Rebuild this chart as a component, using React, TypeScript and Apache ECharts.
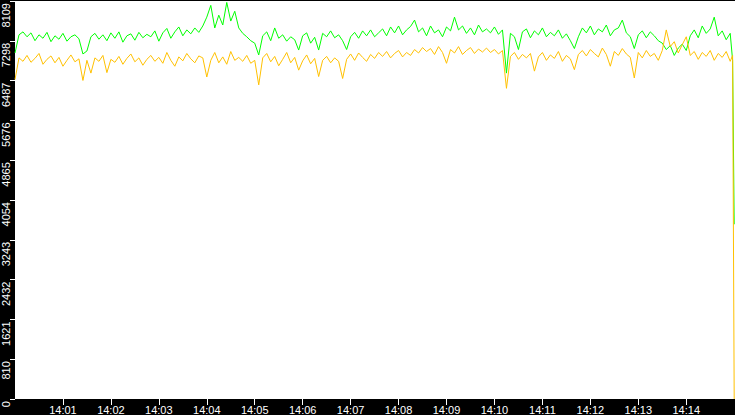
import React, { useEffect, useRef } from "react";
import * as echarts from "echarts";

// seconds after 14:00:00, one reading every 5 s, plus the final drop
const times: number[] = [
  ...Array.from({ length: 180 }, (_, i) => i * 5),
  898,
  900,
];

const greenValues: number[] = [
  7050, 7420, 7480, 7380, 7460, 7300, 7420, 7350, 7470, 7280,
  7400, 7330, 7450, 7290, 7380, 7420, 7340, 7030, 7090, 7380,
  7450, 7330, 7420, 7300, 7460, 7350, 7480, 7270, 7400, 7440,
  7310, 7470, 7360, 7430, 7380, 7500, 7290, 7460, 7550, 7350,
  7480, 7580, 7400, 7520, 7440, 7560, 7470, 7600, 7780, 8020,
  7560, 7820, 7620, 8080, 7700, 7900, 7560, 7450, 7380, 7300,
  7250, 7010, 7400, 7480, 7300, 7560, 7350, 7420, 7290, 7380,
  7320, 7110, 7400, 7460, 7250, 7370, 7110, 7450, 7380, 7500,
  7360, 7420, 7300, 7120, 7380, 7470, 7350, 7500, 7400, 7520,
  7380, 7460, 7540, 7400, 7580, 7460, 7600, 7420, 7520, 7590,
  7720, 7480, 7560, 7400, 7600, 7460, 7520, 7380, 7580, 7500,
  7780, 7520, 7600, 7450, 7560, 7420, 7620, 7480, 7540, 7460,
  7580, 7430, 7520, 6640, 7450, 7380, 7120, 7480, 7540, 7360,
  7500, 7420, 7560, 7380, 7470, 7400, 7520, 7350, 7440, 7300,
  7140, 7380, 7560, 7460, 7600, 7420, 7540, 7480, 7620, 7400,
  7520, 7560, 7720, 7460, 7380, 7140, 7420, 7500, 7360, 7480,
  7400, 7300, 7250, 7120, 7200, 7000, 7150, 7230, 7100, 7400,
  7520, 7360, 7600, 7450, 7540, 7780, 7400, 7500, 7320, 7450,
  6900, 3560,
];

const orangeValues: number[] = [
  6510, 6950, 6880, 7000, 6860, 6940, 7040, 6820, 6920, 6990,
  6850, 6960, 6780, 6900, 7010, 6870, 6930, 6490, 6900, 6640,
  6950, 6880, 7000, 6650, 6920, 6860, 6980, 6820, 6940, 7030,
  6870, 6950, 6800, 6920, 7000, 6880, 6960, 6840, 7060, 6900,
  6780, 6970, 6890, 7040, 6930, 6850, 6990, 6950, 6560, 6900,
  7060, 6850, 6970, 6820, 7080, 6900, 6960, 6880, 7000, 6840,
  6900, 6400, 6950, 7040, 6870, 6980, 6790, 6920, 7060, 6850,
  6960, 6700, 6890, 7010, 6830, 6940, 6570, 6900, 6980, 6850,
  6950, 6880, 6530, 6920, 7030, 6900, 7050, 6960, 6880, 7020,
  6940, 7060, 6980, 7080, 6950, 7040, 7100, 6970, 7060, 7000,
  7120, 7050, 7160, 7080, 7140, 7020, 7180, 7060, 6840, 7120,
  7050, 7180, 7020, 7100, 7160, 7040, 7130, 7070, 7150, 7060,
  7120, 7030, 7100, 6330, 6980, 7060, 6920, 7020, 6950, 7040,
  6680, 6970, 7060, 6900, 7010, 6940, 7080, 6880, 7000, 6930,
  6710, 7020, 7100, 6990, 7120, 7040, 6970, 7150, 7020, 6780,
  7080, 7000, 7140, 7030, 6960, 6540, 7060, 6950, 7100, 6980,
  7040, 6900, 7100, 7520, 7180, 7280, 7050, 7220, 7380, 7000,
  7080, 6920, 7060, 6980, 7100, 6900, 7040, 6960, 7080, 6880,
  7000, 0,
];

const xTickValues: number[] = [60, 120, 180, 240, 300, 360, 420, 480, 540, 600, 660, 720, 780, 840];
const xTickLabels: string[] = [
  "14:01", "14:02", "14:03", "14:04", "14:05", "14:06", "14:07",
  "14:08", "14:09", "14:10", "14:11", "14:12", "14:13", "14:14",
];

const yTickValues: number[] = [0, 810.9, 1621.8, 2432.7, 3243.6, 4054.5, 4865.4, 5676.3, 6487.2, 7298.1, 8109];
const yTickLabels: string[] = ["0", "810", "1621", "2432", "3243", "4054", "4865", "5676", "6487", "7298", "8109"];

const nearestLabel = (v: number, values: number[], labels: string[]) => {
  let best = 0;
  values.forEach((t, i) => {
    if (Math.abs(t - v) < Math.abs(values[best] - v)) best = i;
  });
  return labels[best];
};

const App: React.FC = () => {
  const chartRef = useRef<HTMLDivElement>(null);

  useEffect(() => {
    if (!chartRef.current) return;
    document.body.style.margin = "0";
    const chart = echarts.init(chartRef.current, null, { renderer: "svg" });

    chart.setOption({
      animation: false,
      backgroundColor: "#000",
      grid: {
        show: true,
        left: 15,
        right: 0,
        top: 0,
        bottom: 16,
        backgroundColor: "#fff",
        borderWidth: 0,
      },
      xAxis: {
        type: "value",
        min: 0,
        max: 901,
        axisLine: { show: false },
        splitLine: { show: false },
        axisTick: {
          show: true,
          customValues: xTickValues,
          length: 6,
          lineStyle: { color: "#fff", width: 1 },
        },
        axisLabel: {
          customValues: xTickValues,
          color: "#fff",
          fontFamily: "Liberation Sans",
          fontSize: 11,
          margin: 5,
          formatter: (v: number) => nearestLabel(v, xTickValues, xTickLabels),
        },
      },
      yAxis: {
        type: "value",
        min: 0,
        max: 8109,
        axisLine: { show: false },
        splitLine: { show: false },
        axisTick: {
          show: true,
          customValues: yTickValues,
          length: 5,
          lineStyle: { color: "#fff", width: 1 },
        },
        axisLabel: {
          customValues: yTickValues,
          color: "#fff",
          fontFamily: "Liberation Sans",
          fontSize: 11,
          rotate: 90,
          align: "right",
          verticalAlign: "middle",
          margin: 9,
          padding: [0, 2, 0, 0],
          formatter: (v: number) => nearestLabel(v, yTickValues, yTickLabels),
        },
      },
      series: [
        {
          name: "green",
          type: "line",
          symbol: "none",
          data: times.map((t, i) => [t, greenValues[i]]),
          lineStyle: { color: "#00ff00", width: 1 },
        },
        {
          name: "orange",
          type: "line",
          symbol: "none",
          data: times.map((t, i) => [t, orangeValues[i]]),
          lineStyle: { color: "#ffc000", width: 1 },
        },
      ],
    });

    return () => {
      chart.dispose();
    };
  }, []);

  return (
    <div
      ref={chartRef}
      style={{ position: "absolute", left: 0, top: 0, width: 735, height: 415 }}
    ></div>
  );
};

export default App;
